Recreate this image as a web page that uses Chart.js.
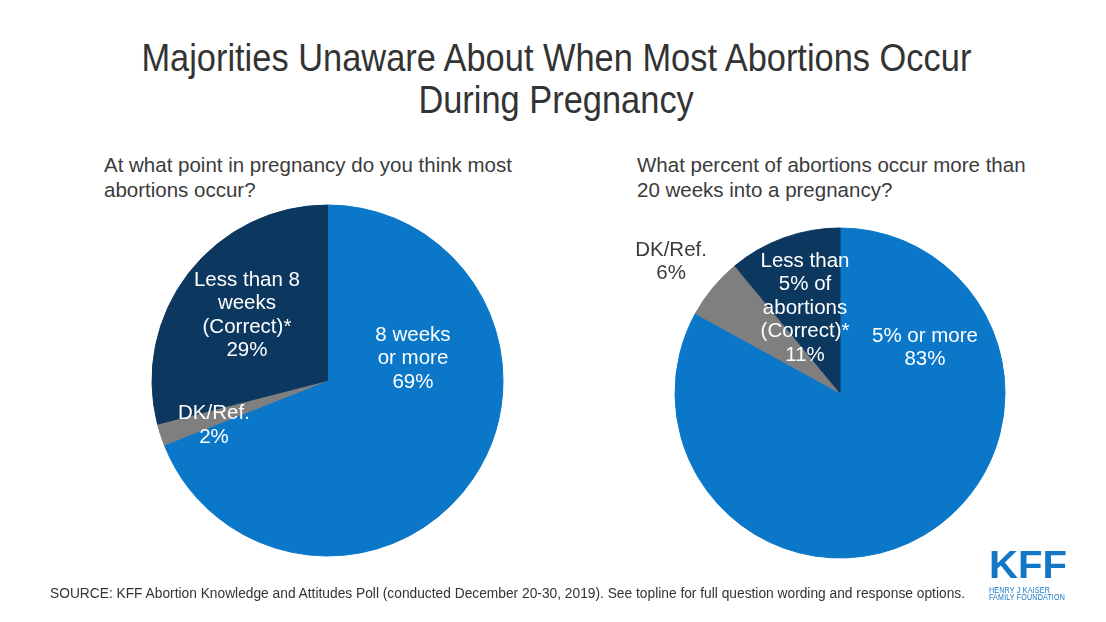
<!DOCTYPE html>
<html>
<head>
<meta charset="utf-8">
<script src="https://cdn.jsdelivr.net/npm/chart.js@4.4.1/dist/chart.umd.min.js"></script>
<style>
  html, body { margin: 0; padding: 0; }
  body { width: 1106px; height: 622px; position: relative; overflow: hidden; background: #fff;
         font-family: "Liberation Sans", Arial, sans-serif; color: #3b3b3b; }
  .abs { position: absolute; white-space: nowrap; }
  #title { left: 3px; top: 37px; width: 1106px; text-align: center; font-size: 39px; line-height: 42px; color: #333; }
  #title span { display: inline-block; transform-origin: center; }
  .sub { font-size: 20.5px; line-height: 25px; color: #3b3b3b; }
  #source { left: 50px; top: 584px; font-size: 14px; line-height: 18px; color: #333; transform-origin: left center; }
  canvas { position: absolute; }
  .logo { color: #1477C6; }
  #logoK { left: 989px; top: 545px; font-weight: bold; font-size: 39px; line-height: 39px; }
  .logoS { font-size: 8.5px; line-height: 9px; letter-spacing: 0.2px; left: 989px; }
</style>
</head>
<body>
<div id="title" class="abs"><span id="t1">Majorities Unaware About When Most Abortions Occur</span><br><span id="t2">During Pregnancy</span></div>
<div id="subL" class="abs sub" style="left:104px; top:152px;">At what point in pregnancy do you think most<br>abortions occur?</div>
<div id="subR" class="abs sub" style="left:637px; top:152px;">What percent of abortions occur more than<br>20 weeks into a pregnancy?</div>
<canvas id="left" width="401" height="401" style="left:127px; top:180px;"></canvas>
<canvas id="right" width="480" height="480" style="left:600px; top:153px;"></canvas>
<div id="source" class="abs">SOURCE: KFF Abortion Knowledge and Attitudes Poll (conducted December 20-30, 2019). See topline for full question wording and response options.</div>
<div id="logoK" class="abs logo">KFF</div>
<div id="ls1" class="abs logo logoS" style="top:585.7px;">HENRY J KAISER</div>
<div id="ls2" class="abs logo logoS" style="top:592.7px;">FAMILY FOUNDATION</div>
<script>
// ---- Data ----
const leftCategories = ['8 weeks or more', 'DK/Ref.', 'Less than 8 weeks (Correct)*'];
const leftValues = [69, 2, 29];
const leftLabelLines = [['8 weeks', 'or more'], ['DK/Ref.'], ['Less than 8', 'weeks', '(Correct)*']];

const rightCategories = ['5% or more', 'DK/Ref.', 'Less than 5% of abortions (Correct)*'];
const rightValues = [83, 6, 11];
const rightLabelLines = [['5% or more'], ['DK/Ref.'], ['Less than', '5% of', 'abortions', '(Correct)*']];

// ---- Styles ----
const sliceColors = ['#0A77C8', '#7F7F7F', '#0C375F'];

function fitWidth(el, target, origin) {
  const w = el.getBoundingClientRect().width;
  const s = target / w;
  el.style.transformOrigin = origin || 'left center';
  el.style.transform = 'scaleX(' + s + ')';
  return s;
}

const labelPlugin = {
  id: 'sliceLabels',
  afterDatasetsDraw(chart, args, opts) {
    const ctx = chart.ctx;
    const meta = chart.getDatasetMeta(0);
    const values = chart.data.datasets[0].data;
    ctx.save();
    ctx.font = '20.5px "Liberation Sans", Arial, sans-serif';
    ctx.textAlign = 'center';
    ctx.textBaseline = 'middle';
    meta.data.forEach((arc, i) => {
      const lines = opts.lines[i].concat([values[i] + '%']);
      const off = opts.offsets[i];
      const cx = arc.x + off[0] * arc.outerRadius;
      const cy = arc.y + off[1] * arc.outerRadius;
      const lh = opts.lineHeight;
      const y0 = cy - (lines.length - 1) * lh / 2;
      ctx.fillStyle = opts.colors[i];
      lines.forEach((ln, k) => ctx.fillText(ln, cx, y0 + k * lh));
    });
    ctx.restore();
  }
};

function makePie(id, categories, values, radius, lines, offsets, colors) {
  return new Chart(document.getElementById(id), {
    type: 'pie',
    data: {
      labels: categories,
      datasets: [{
        data: values,
        backgroundColor: sliceColors,
        borderColor: sliceColors,
        borderWidth: 1
      }]
    },
    options: {
      responsive: false,
      devicePixelRatio: 1,
      animation: false,
      radius: radius,
      layout: { padding: 0 },
      plugins: {
        legend: { display: false },
        tooltip: { enabled: false },
        sliceLabels: { lines: lines, offsets: offsets, colors: colors, lineHeight: 23.5 }
      }
    },
    plugins: [labelPlugin]
  });
}

makePie('left', leftCategories, leftValues, 175.5, leftLabelLines,
  [[0.487, -0.125], [-0.647, 0.256], [-0.459, -0.37]],
  ['#ffffff', '#ffffff', '#ffffff']);
makePie('right', rightCategories, rightValues, 165, rightLabelLines,
  [[0.515, -0.273], [-1.024, -0.794], [-0.212, -0.515]],
  ['#ffffff', '#3b3b3b', '#ffffff']);

// fit text widths to reference
const s = fitWidth(document.getElementById('t1'), 830, 'center');
document.getElementById('t2').style.transform = 'scaleX(' + s + ')';
fitWidth(document.getElementById('source'), 915, 'left center');
fitWidth(document.getElementById('logoK'), 78, 'left top');
fitWidth(document.getElementById('ls1'), 61, 'left top');
fitWidth(document.getElementById('ls2'), 76, 'left top');
</script>
</body>
</html>
